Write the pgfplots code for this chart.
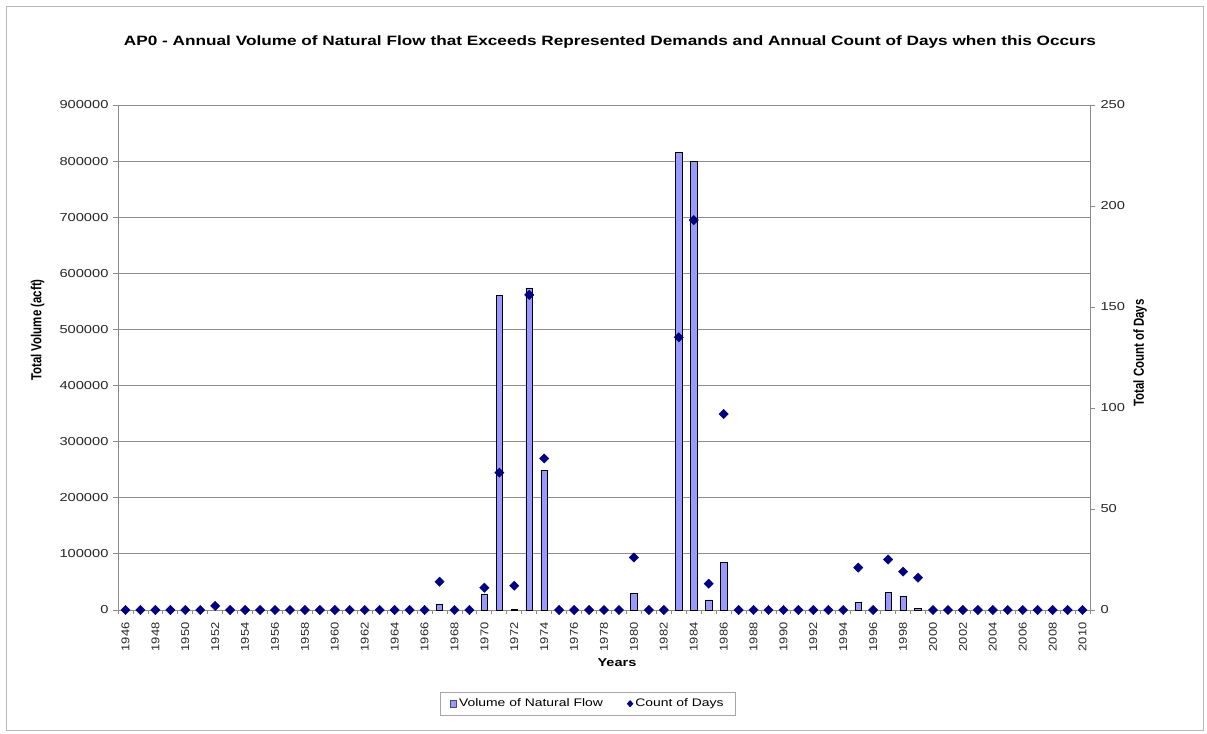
\documentclass[border=0pt]{standalone}
\usepackage{pgfplots}
\usepackage{pgfplotstable}
\pgfplotsset{compat=1.18}
\usepackage{fontspec}
\setmainfont{Liberation Sans}
\usepackage{graphicx}
\definecolor{barcol}{HTML}{9999FF}
\definecolor{mkcol}{HTML}{000080}
\definecolor{gridcol}{HTML}{8C8C8C}
\newcommand{\stx}[1]{\scalebox{1.27}[1]{#1}}
\newcommand{\fs}[1]{\fontsize{#1}{#1}\selectfont}

\pgfplotstableread{
year vol
1967 10000
1970 28000
1971 560000
1972 1500
1973 574000
1974 249000
1980 29000
1983 815000
1984 800000
1985 18000
1986 85000
1995 13000
1997 31000
1998 24000
1999 3500
}\voltable

\pgfplotstableread{
year days
1946 0
1947 0
1948 0
1949 0
1950 0
1951 0
1952 2
1953 0
1954 0
1955 0
1956 0
1957 0
1958 0
1959 0
1960 0
1961 0
1962 0
1963 0
1964 0
1965 0
1966 0
1967 14
1968 0
1969 0
1970 11
1971 68
1972 12
1973 156
1974 75
1975 0
1976 0
1977 0
1978 0
1979 0
1980 26
1981 0
1982 0
1983 135
1984 193
1985 13
1986 97
1987 0
1988 0
1989 0
1990 0
1991 0
1992 0
1993 0
1994 0
1995 21
1996 0
1997 25
1998 19
1999 16
2000 0
2001 0
2002 0
2003 0
2004 0
2005 0
2006 0
2007 0
2008 0
2009 0
2010 0
}\daystable

\pgfplotsset{/pgf/number format/assume math mode=true}

\begin{document}
\begin{tikzpicture}[x=1bp,y=1bp]
\useasboundingbox (0,0) rectangle (1207,734);
\draw[gray!55, line width=0.8bp] (6,4) rectangle (1203,728);

\begin{axis}[
  at={(118bp,124bp)}, anchor=south west,
  scale only axis, width=972bp, height=505bp,
  xmin=1945.5, xmax=2010.5, ymin=0, ymax=900000,
  axis y line*=left, axis x line*=bottom,
  axis line style={gridcol, line width=0.8bp},
  ymajorgrids, grid style={gridcol, line width=0.8bp},
  ytick={0,100000,...,900000},
  scaled y ticks=false,
  tick align=outside,
  major tick length=5bp,
  minor tick length=4bp,
  tick style={gridcol, line width=0.8bp},
  every major x tick/.append style={draw=none},
  xtick={1946,1948,...,2010},
  minor xtick={1945.5,1946.5,...,2010.5},
  yticklabel={\stx{\pgfmathprintnumber[fixed,1000 sep={},precision=0]{\tick}}},
  yticklabel style={font=\fs{11.6}, text=black!85, xshift=-1bp},
  xticklabel={\scalebox{0.87}[1]{\rotatebox{90}{\pgfmathprintnumber[fixed,1000 sep={},precision=0]{\tick}}}},
  xticklabel style={font=\fs{13}, anchor=north, text=black!85, yshift=-4bp},
  clip=false,
]
\addplot[ybar, bar width=6.5bp, fill=barcol, draw=black, line width=0.6bp]
  table[x=year, y=vol] {\voltable};
\end{axis}

\begin{axis}[
  at={(118bp,124bp)}, anchor=south west,
  scale only axis, width=972bp, height=505bp,
  xmin=1945.5, xmax=2010.5, ymin=0, ymax=250,
  axis y line*=right, axis x line=none,
  axis line style={gridcol, line width=0.8bp},
  ytick={0,50,...,250},
  tick align=outside,
  major tick length=5bp,
  tick style={gridcol, line width=0.8bp},
  yticklabel={\stx{\pgfmathprintnumber{\tick}}},
  yticklabel style={font=\fs{11.6}, text=black!85, xshift=2bp},
  clip=false,
  legend columns=2,
  legend style={at={(0.4835,-0.162)}, anchor=north, draw=gray!70,
    font=\fs{11}, inner xsep=10bp, inner ysep=5bp,
    /tikz/every even column/.append style={column sep=22bp}},
]
\addlegendimage{legend image code/.code={\draw[fill=barcol, draw=black!70, line width=0.6bp] (3bp,-3.2bp) rectangle (9bp,3.2bp);}}
\addlegendentry{\stx{Volume of Natural Flow}}
\addplot[only marks, mark=square*, mark size=3.3bp, mark options={rotate=45}, color=mkcol,
  legend image code/.code={\begin{scope}[shift={(0.3cm,0)}]\fill[mkcol] (0,3.2bp) -- (3bp,0) -- (0,-3.2bp) -- (-3bp,0) -- cycle;\end{scope}}]
  table[x=year, y=days] {\daystable};
\addlegendentry{\stx{Count of Days}}
\end{axis}

\node[font=\bfseries\fs{13.6}] at (610,692) {\stx{AP0 - Annual Volume of Natural Flow that Exceeds Represented Demands and Annual Count of Days when this Occurs}};
\node[font=\bfseries\fs{11.5}] at (617,71) {\stx{Years}};
\node[font=\bfseries\fs{11.5}] at (37.5,404) {\stx{\rotatebox{90}{Total Volume (acft)}}};
\node[font=\bfseries\fs{11.5}] at (1140,381) {\stx{\rotatebox{90}{Total Count of Days}}};
\end{tikzpicture}
\end{document}
